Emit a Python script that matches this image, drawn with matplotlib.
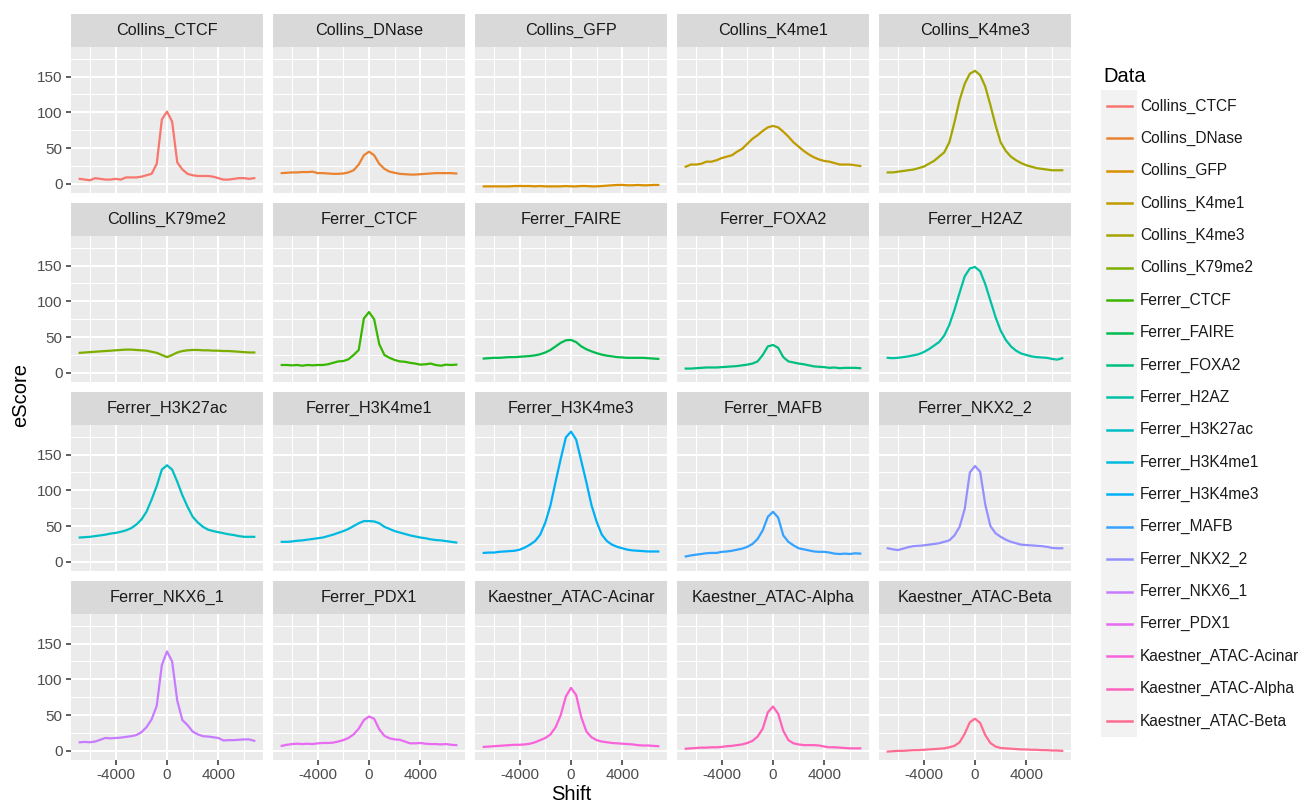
import numpy as np
import matplotlib
matplotlib.use("Agg")
import matplotlib.pyplot as plt
from matplotlib.lines import Line2D
from matplotlib.patches import Rectangle

plt.rcParams['font.family'] = ['Liberation Sans', 'DejaVu Sans']

# ---------------- data ----------------
shift = list(range(-6800, 6801, 400))

series_names = [
    "Collins_CTCF", "Collins_DNase", "Collins_GFP", "Collins_K4me1", "Collins_K4me3",
    "Collins_K79me2", "Ferrer_CTCF", "Ferrer_FAIRE", "Ferrer_FOXA2", "Ferrer_H2AZ",
    "Ferrer_H3K27ac", "Ferrer_H3K4me1", "Ferrer_H3K4me3", "Ferrer_MAFB", "Ferrer_NKX2_2",
    "Ferrer_NKX6_1", "Ferrer_PDX1", "Kaestner_ATAC-Acinar", "Kaestner_ATAC-Alpha", "Kaestner_ATAC-Beta",
]

colors = [
    "#F8766D", "#EA8331", "#D89000", "#C09B00", "#A3A500",
    "#7CAE00", "#39B600", "#00BB4E", "#00BF7D", "#00C1A3",
    "#00BFC4", "#00BAE0", "#00B0F6", "#35A2FF", "#9590FF",
    "#C77CFF", "#E76BF3", "#FA62DB", "#FF62BC", "#FF6C91",
]

Collins_CTCF = [7, 6, 5, 8, 7, 6, 6, 7, 6, 9, 9, 9, 10, 12, 14, 28, 90, 101, 87, 30, 20, 14, 12, 11, 11, 11, 10, 8, 6, 6, 7, 8, 8, 7, 8]
Collins_DNase = [15, 15.5, 16, 16, 16.5, 16.5, 17, 15, 15, 14.5, 14, 14, 14.5, 16, 19, 27, 40, 45, 40, 28, 21, 17, 15.5, 14, 13.5, 13, 13, 13.5, 14, 14.5, 15, 15, 15, 15, 14.5]
Collins_GFP = [-3.5, -3.5, -3.5, -3.5, -3.5, -3.5, -3, -3, -3, -3, -3.5, -3, -3.5, -3.5, -3.5, -3.5, -3, -3.5, -3.5, -3, -3, -3.5, -3.5, -3, -2.5, -2, -1.5, -1.5, -2, -2, -1.5, -2, -2, -1.5, -1.5]
Collins_K4me1 = [24, 27, 27, 28, 31, 31, 33, 36, 38, 40, 45, 49, 56, 63, 68, 74, 79, 81, 79, 73, 66, 58, 52, 46, 41, 37, 34, 32, 31, 29, 27, 27, 27, 26, 25]
Collins_K4me3 = [16, 16, 17, 18, 19, 20, 22, 24, 28, 32, 38, 44, 58, 86, 117, 140, 154, 158, 152, 136, 110, 82, 58, 46, 38, 33, 29, 26, 24, 22, 21, 20, 19, 19, 19]
Collins_K79me2 = [28, 28.5, 29, 29.5, 30, 30.5, 31, 31.5, 32, 32.5, 32.5, 32, 31.5, 31, 29.5, 28, 25, 22, 25, 28.5, 30.5, 31.5, 32, 32, 31.5, 31.5, 31, 31, 30.5, 30.5, 30, 29.5, 29, 28.5, 28.5]
Ferrer_CTCF = [11, 11, 10.5, 11, 10, 11, 10.5, 11, 11, 12, 14, 16, 16.5, 19, 25, 32, 76, 85, 75, 40, 25, 21, 18, 16, 15.5, 14, 13, 11.5, 12, 13, 11, 10, 11.5, 11, 11.5]
Ferrer_FAIRE = [20, 20.5, 21, 21, 21.5, 22, 22, 22.5, 23, 23.5, 24.5, 26, 28.5, 32, 37, 42, 45.5, 46, 43, 37, 33, 30, 27.5, 25.5, 24, 23, 22, 21.5, 21, 21, 21, 21, 20.5, 20, 19.5]
Ferrer_FOXA2 = [6, 6, 6.5, 7, 7.5, 7.5, 7.5, 8, 8.5, 9, 9.5, 10.5, 11.5, 13, 16, 25, 37, 39, 35, 22, 16, 14.5, 13, 12, 10.5, 9, 8.5, 8, 7, 7.5, 6.5, 7, 7, 7, 6.5]
Ferrer_H2AZ = [21, 20.5, 21, 22, 23, 24.5, 26, 29, 33, 38, 43, 52, 67, 88, 112, 135, 146, 148, 142, 124, 101, 78, 59, 46, 37, 31, 27, 25, 23, 22, 21.5, 21, 19.5, 18.5, 20.5]
Ferrer_H3K27ac = [34, 34.5, 35, 36, 37, 38, 39.5, 40.5, 42, 44, 47, 52, 59, 70, 87, 106, 129, 135, 129, 112, 93, 77, 63, 55, 49, 45, 43, 41.5, 40, 38.5, 37.5, 36, 35, 35, 35]
Ferrer_H3K4me1 = [28, 28, 28.5, 29.5, 30, 31, 32, 33, 34, 36, 38, 40.5, 43, 46, 50, 54, 57, 57, 56.5, 54, 49, 46, 43, 41, 39, 37, 35.5, 34, 33, 31.5, 30.5, 30, 29, 28, 27]
Ferrer_H3K4me3 = [12.5, 13, 13, 14, 14.5, 15, 15.5, 17, 20, 24, 29, 38, 55, 79, 112, 144, 174, 182, 171, 141, 111, 79, 56, 38, 29, 24, 21, 19, 17, 16, 15.5, 15, 14.5, 14.5, 14.5]
Ferrer_MAFB = [7.5, 9, 10, 11, 12, 12.5, 12.5, 14, 14.5, 15.5, 17, 18.5, 21, 25, 32, 44, 63, 70, 62, 37, 28, 23, 19, 17.5, 16, 14.5, 14, 14, 13, 11.5, 11, 11.5, 11, 12, 11.5]
Ferrer_NKX2_2 = [19, 17.5, 16.5, 18.5, 20.5, 22, 22.5, 23, 24, 25, 26, 28, 30, 37, 49, 74, 125, 134, 126, 80, 50, 40, 35, 31, 28, 26, 24, 23.5, 23, 22.5, 22, 21, 19.5, 19, 19]
Ferrer_NKX6_1 = [12, 12.5, 12, 13, 15.5, 18, 17.5, 18, 18.5, 19.5, 20.5, 22, 26, 33, 44, 63, 120, 139, 125, 70, 43, 36, 27, 23, 20.5, 20, 19, 18, 14.5, 15, 15, 15.5, 16, 16, 14]
Ferrer_PDX1 = [7, 8.5, 9.5, 10, 9.5, 10, 9.5, 10.5, 11, 11, 11.5, 13, 15, 18, 23, 31, 43, 48, 45, 30, 21, 17.5, 16, 15.5, 13, 10.5, 10.5, 11, 10, 9.5, 9.5, 9, 9.5, 8.5, 8]
Kaestner_ATAC_Acinar = [5.5, 6, 6.5, 7, 7.5, 8, 8.5, 8.5, 9, 10, 12, 15, 18, 23, 33, 50, 76, 88, 78, 47, 27, 19, 15, 13, 12, 11, 10.5, 10, 9.5, 9, 8, 7.5, 7.5, 7, 6.5]
Kaestner_ATAC_Alpha = [3, 3.5, 4, 4.5, 4.5, 5, 5, 5.5, 6.5, 7, 8, 9, 11, 14, 20, 31, 54, 62, 52, 28, 15, 10.5, 9, 8, 8, 8, 7.5, 6, 5, 5, 4.5, 4, 3.5, 3.5, 3.5]
Kaestner_ATAC_Beta = [-1, -0.5, 0, 0, 0.5, 1, 1, 1.5, 2, 2.5, 3, 3.5, 5, 7, 12, 24, 40, 45, 39, 22, 11, 6, 4, 3.5, 3, 2.5, 2, 2, 1.5, 1.5, 1, 1, 0.5, 0.5, 0]

values = [
    Collins_CTCF, Collins_DNase, Collins_GFP, Collins_K4me1, Collins_K4me3,
    Collins_K79me2, Ferrer_CTCF, Ferrer_FAIRE, Ferrer_FOXA2, Ferrer_H2AZ,
    Ferrer_H3K27ac, Ferrer_H3K4me1, Ferrer_H3K4me3, Ferrer_MAFB, Ferrer_NKX2_2,
    Ferrer_NKX6_1, Ferrer_PDX1, Kaestner_ATAC_Acinar, Kaestner_ATAC_Alpha, Kaestner_ATAC_Beta,
]

x_major = [-4000, 0, 4000]
x_minor = [-6000, -2000, 2000, 6000]
y_major = [0, 50, 100, 150]
y_minor = [25, 75, 125, 175]

# ---------------- layout ----------------
W, H = 1305, 806
fig = plt.figure(figsize=(W / 100, H / 100), dpi=100)
fig.patch.set_facecolor('white')


def fx(px):
    return px / W


def fy(py):
    return 1 - py / H


allv = np.concatenate([np.asarray(v, float) for v in values])
ymin, ymax = allv.min(), allv.max()
ypad = 0.05 * (ymax - ymin)
xmin, xmax = min(shift), max(shift)
xpad = 0.05 * (xmax - xmin)

PW, PH = 192, 146
STRIP_H = 33
COL_STEP, ROW_STEP = 202, 189
LEFT0, TOP0 = 71, 14

for k, (name, vals) in enumerate(zip(series_names, values)):
    r, c = divmod(k, 5)
    left = LEFT0 + COL_STEP * c
    strip_top = TOP0 + ROW_STEP * r
    ptop = strip_top + STRIP_H
    ax = fig.add_axes([fx(left), fy(ptop + PH), PW / W, PH / H])
    ax.set_facecolor('#EBEBEB')
    for s in ax.spines.values():
        s.set_visible(False)
    ax.set_xlim(xmin - xpad, xmax + xpad)
    ax.set_ylim(ymin - ypad, ymax + ypad)
    ax.set_xticks(x_major)
    ax.set_xticks(x_minor, minor=True)
    ax.set_yticks(y_major)
    ax.set_yticks(y_minor, minor=True)
    ax.set_xticklabels([str(v) for v in x_major])
    ax.set_yticklabels([str(v) for v in y_major])
    ax.set_axisbelow(True)
    ax.grid(which='major', color='white', lw=1.45)
    ax.grid(which='minor', color='white', lw=0.75)
    ax.tick_params(which='minor', length=0)
    ax.tick_params(which='major', length=3.6, width=1.1, color='#333333',
                   labelcolor='#4D4D4D', labelsize=11, pad=2.5)
    if c != 0:
        ax.tick_params(axis='y', which='both', left=False, labelleft=False)
    if r != 3:
        ax.tick_params(axis='x', which='both', bottom=False, labelbottom=False)
    ax.plot(shift, vals, color=colors[k], lw=1.6, solid_joinstyle='round')

    sax = fig.add_axes([fx(left), fy(strip_top + STRIP_H), PW / W, STRIP_H / H])
    sax.set_facecolor('#D9D9D9')
    for s in sax.spines.values():
        s.set_visible(False)
    sax.set_xticks([])
    sax.set_yticks([])
    sax.text(0.5, 0.5, name, ha='center', va='center', fontsize=11.7,
             color='#1A1A1A', transform=sax.transAxes)

# axis titles
fig.text(fx(LEFT0 + (4 * COL_STEP + PW) / 2), fy(795), 'Shift', ha='center', va='center', fontsize=14.5)
fig.text(fx(21), fy(395), 'eScore', ha='center', va='center', rotation=90, fontsize=14.5)

# legend
fig.text(fx(1103), fy(76), 'Data', ha='left', va='center', fontsize=14.5)
key_top, key_step = 106, 32.37
fig.add_artist(Rectangle((fx(1101), fy(key_top + key_step * 19 + 16.2)), 36 / W,
                         (key_step * 19 + 32.4) / H, transform=fig.transFigure,
                         facecolor='#F2F2F2', edgecolor='none'))
for i, (name, col) in enumerate(zip(series_names, colors)):
    yy = fy(key_top + key_step * i)
    fig.add_artist(Line2D([fx(1107), fx(1132)], [yy, yy], color=col, lw=1.8,
                          transform=fig.transFigure))
    fig.text(fx(1140), yy, name, ha='left', va='center', fontsize=11.2, color='#1A1A1A')

fig.savefig('out.png', dpi=100)
